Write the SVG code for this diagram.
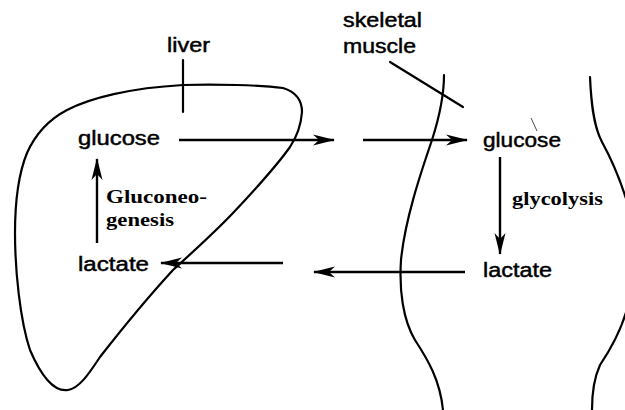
<svg xmlns="http://www.w3.org/2000/svg" width="625" height="410" viewBox="0 0 625 410">
<style>
.o{fill:none;stroke:#000;stroke-width:2.2;stroke-linejoin:round;stroke-linecap:round}
.a{fill:none;stroke:#000;stroke-width:2.4}
.s{font-family:"Liberation Sans",Arial,sans-serif;font-size:19.5px;fill:#000;stroke:#000;stroke-width:0.45}
.b{font-family:"Liberation Serif","Times New Roman",serif;font-size:18px;font-weight:bold;fill:#000}
</style>
<defs>
<marker id="ah" markerUnits="userSpaceOnUse" markerWidth="24" markerHeight="14" viewBox="-22 -7 24 14" refX="0" refY="0" orient="auto">
<path d="M1,0 L-21,-5.5 L-15,0 L-21,5.5 Z" fill="#000"/>
</marker>
</defs>
<rect width="625" height="410" fill="#fff"/>
<g id="liver">
<path class="o" d="M183,85 C215,84 260,85 283,88 C296,92 302,100 302,112 C301,125 296,138 290,147 C275,168 250,195 233,213 C215,232 195,250 173,270 C150,295 125,325 100,357 C90,372 80,388 68,390 C55,392 42,378 30,350 C20,320 15,270 15,233 C15,205 18,175 27,153 C35,135 48,120 67,110 C90,98 130,88 183,85 Z"/>
<line class="o" x1="183" y1="60" x2="183" y2="112"/>
<text class="s" x="167" y="52" textLength="43" lengthAdjust="spacingAndGlyphs">liver</text>
</g>
<g id="muscle">
<path class="o" d="M444,75 C444,95 440,115 432,140 C420,175 405,220 401,260 C399,290 403,320 415,340 C428,360 440,380 443,410"/>
<path class="o" d="M590,77 C591,100 593,125 602,142 C612,160 622,185 628,205"/>
<path class="o" d="M628,305 C622,330 610,350 600,365 C594,378 592,395 592,410"/>
<line class="o" x1="390" y1="62" x2="463" y2="107"/>
<text class="s" x="343" y="27" textLength="79" lengthAdjust="spacingAndGlyphs">skeletal</text>
<text class="s" x="343" y="53" textLength="73" lengthAdjust="spacingAndGlyphs">muscle</text>
</g>
<g id="liver-glucose">
<text class="s" x="78" y="145" textLength="82" lengthAdjust="spacingAndGlyphs">glucose</text>
</g>
<g id="liver-lactate">
<text class="s" x="78" y="271" textLength="71" lengthAdjust="spacingAndGlyphs">lactate</text>
</g>
<g id="muscle-glucose">
<text class="s" x="483" y="147" textLength="78" lengthAdjust="spacingAndGlyphs">glucose</text>
<path d="M537,131 L531,118" stroke="#000" stroke-width="0.7" fill="none"/>
</g>
<g id="muscle-lactate">
<text class="s" x="483" y="277" textLength="69" lengthAdjust="spacingAndGlyphs">lactate</text>
</g>
<g id="connectors">
<line class="a" x1="179" y1="140" x2="334" y2="140" marker-end="url(#ah)"/>
<line class="a" x1="363" y1="140" x2="467" y2="140" marker-end="url(#ah)"/>
<line class="a" x1="465" y1="272" x2="314" y2="272" marker-end="url(#ah)"/>
<line class="a" x1="283" y1="263" x2="161" y2="263" marker-end="url(#ah)"/>
<line class="a" x1="97" y1="243" x2="97" y2="159" marker-end="url(#ah)"/>
<line class="a" x1="500" y1="157" x2="500" y2="254" marker-end="url(#ah)"/>
<text class="b" x="106" y="203" textLength="101" lengthAdjust="spacingAndGlyphs">Gluconeo-</text>
<text class="b" x="106" y="226" textLength="68" lengthAdjust="spacingAndGlyphs">genesis</text>
<text class="b" x="512" y="205" textLength="91" lengthAdjust="spacingAndGlyphs">glycolysis</text>
</g>
</svg>
